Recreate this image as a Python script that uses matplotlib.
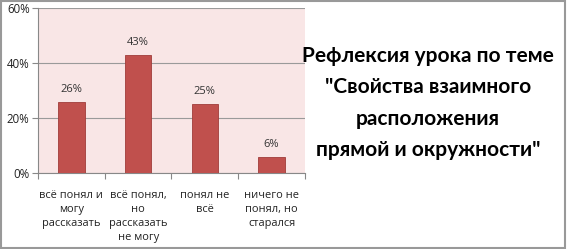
import matplotlib.pyplot as plt
import matplotlib.ticker as mtick
from matplotlib.patches import Rectangle

categories = ["всё понял и\nмогу\nрассказать", "всё понял,\nно\nрассказать\nне могу",
              "понял не\nвсё", "ничего не\nпонял, но\nстарался"]
values = [0.26, 0.43, 0.25, 0.06]
title = 'Рефлексия урока по теме\n"Свойства взаимного\nрасположения\nпрямой и окружности"'

plt.rcParams['font.family'] = ['Open Sans', 'DejaVu Sans']

fig = plt.figure(figsize=(5.67, 2.49), dpi=100)
fig.patches.append(Rectangle((0.002, 0.006), 0.994, 0.99, transform=fig.transFigure,
                             fill=False, edgecolor='#999999', linewidth=1.5))

ax = fig.add_axes([38/567, 1 - 173/249, (305 - 38)/567, (173 - 8)/249])
ax.set_facecolor('#f9e6e6')
x = range(len(values))
bars = ax.bar(x, values, width=0.4, color='#c0504d', edgecolor='#a03c3a', linewidth=0.6, zorder=3)
for b, v in zip(bars, values):
    ax.text(b.get_x() + b.get_width()/2, v + 0.025, f"{round(v*100)}%",
            ha='center', va='bottom', fontsize=8, color='#333333')

ax.set_xlim(-0.5, 3.5)
ax.set_ylim(0, 0.6)
ax.set_yticks([0, 0.2, 0.4, 0.6])
ax.yaxis.set_major_formatter(mtick.PercentFormatter(1.0, decimals=0))
ax.grid(axis='y', color='#9a9a9a', linewidth=0.8, zorder=0)
ax.set_xticks([-0.5, 0.5, 1.5, 2.5, 3.5])
ax.set_xticklabels([])
ax.set_xticks(list(x), minor=True)
ax.set_xticklabels(categories, minor=True, fontsize=7.9, linespacing=1.38, va='top',
                   color='#222222')
ax.tick_params(axis='x', which='minor', length=0, pad=12)
ax.tick_params(axis='x', which='major', length=4, color='#888888')
ax.tick_params(axis='y', length=4, color='#888888', labelsize=8.3, pad=2, labelcolor='#222222')
for s in ['top', 'right']:
    ax.spines[s].set_visible(False)
ax.spines['left'].set_color('#888888')
ax.spines['bottom'].set_color('#888888')

fig.text(428/567, 1 - 103/249, title, ha='center', va='center', fontsize=15,
         fontweight='bold', linespacing=1.72, family=['Lato', 'DejaVu Sans'])

fig.savefig('out.png', dpi=100)
